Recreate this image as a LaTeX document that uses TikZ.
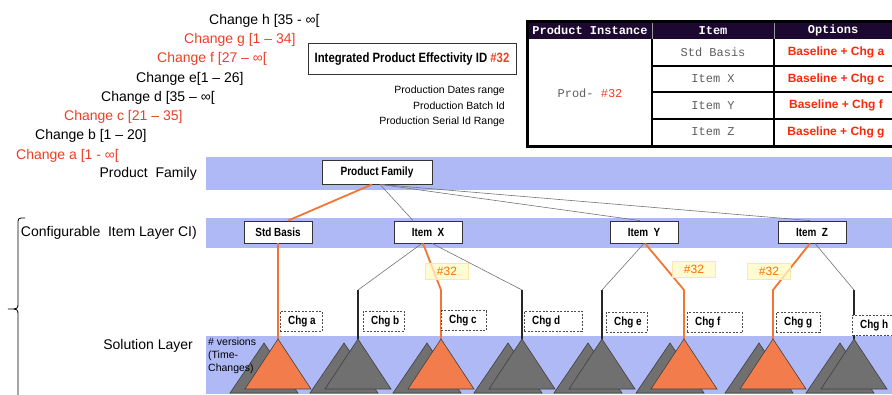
\documentclass[tikz,border=0pt]{standalone}
\usepackage{fontspec}
\setmainfont{Liberation Sans}
\setmonofont{Liberation Mono}
\newfontfamily\narrowsf[FakeStretch=0.84]{Liberation Sans}

\definecolor{chgred}{RGB}{238,62,36}
\definecolor{optred}{RGB}{250,40,10}
\definecolor{layerblue}{RGB}{175,185,246}
\definecolor{pathorange}{RGB}{242,118,50}
\definecolor{treeorange}{RGB}{243,124,76}
\definecolor{treegray}{RGB}{112,112,112}
\definecolor{tagyellow}{RGB}{255,249,196}
\definecolor{tagorange}{RGB}{255,110,0}
\definecolor{headpurple}{RGB}{28,8,48}
\definecolor{cellgray}{RGB}{95,95,95}

\tikzset{
  chglabel/.style={anchor=west, inner sep=0pt, font=\fontsize{14}{16}\selectfont},
  layerlabel/.style={anchor=east, inner sep=0pt, font=\fontsize{14}{16}\selectfont},
  itembox/.style={draw=black!80, fill=white, line width=0.8pt, minimum width=68pt, minimum height=22pt, inner sep=1pt,
    font=\narrowsf\bfseries\fontsize{11.8}{13}\selectfont},
  chgbox/.style={draw=black!70, dash pattern=on 2pt off 1.5pt, fill=white, minimum height=20pt, inner sep=0pt},
  chgtext/.style={inner sep=0pt, font=\narrowsf\bfseries\fontsize{11.8}{13}\selectfont},
  idtag/.style={draw=tagyellow!85!orange, line width=0.4pt, fill=tagyellow, fill opacity=0.75, text opacity=1, text=tagorange,
    minimum width=43pt, minimum height=16pt, inner sep=0pt, font=\fontsize{12}{13}\selectfont},
  thinlink/.style={draw=black!55, line width=0.6pt},
  stem/.style={draw=black!85, line width=1.3pt},
  pick/.style={draw=pathorange, line width=1.8pt},
  versiontree/.style={draw=black!75, line width=0.6pt},
  cell/.style={inner sep=0pt, text=cellgray, font=\ttfamily\fontsize{12}{14}\selectfont},
}

\begin{document}
\begin{tikzpicture}[x=1pt, y=-1pt]
\clip (0,0) rectangle (892,394);

% layers
\fill[layerblue] (206,157) rectangle (892,190);
\fill[layerblue] (206,218) rectangle (892,248);
\fill[layerblue] (206,336) rectangle (892,394);

% change history
\node[chglabel] (chg-h) at (209,21) {Change h [35 - ∞[};
\node[chglabel, text=chgred] (chg-g) at (184,40) {Change g [1 – 34]};
\node[chglabel, text=chgred] (chg-f) at (157,59) {Change f [27 – ∞[};
\node[chglabel] (chg-e) at (136,79) {Change e[1 – 26]};
\node[chglabel] (chg-d) at (101,98) {Change d [35 – ∞[};
\node[chglabel, text=chgred] (chg-c) at (64,117) {Change c [21 – 35]};
\node[chglabel] (chg-b) at (35,136) {Change b [1 – 20]};
\node[chglabel, text=chgred] (chg-a) at (16,156) {Change a [1 - ∞[};

\node[layerlabel] (lbl-pf) at (197,174) {Product\ \ Family};
\node[layerlabel] (lbl-ci) at (197,233) {Configurable\ \ Item Layer CI)};
\node[layerlabel] (lbl-sl) at (193,346) {Solution Layer};

% brace
\draw[line width=0.8pt] (25,218) .. controls (18,218) .. (18,224) -- (18,303)
  .. controls (18,309) .. (8,309) .. controls (18,309) .. (18,315) -- (18,400);

% effectivity
\node[draw=black!80, line width=0.8pt, minimum width=208pt, minimum height=31pt,
  font=\narrowsf\bfseries\fontsize{13.5}{15}\selectfont] (eff) at (412,59)
  {Integrated Product Effectivity ID \textcolor{chgred}{\#32}};
\node[anchor=east, inner sep=0pt, font=\fontsize{10.5}{12}\selectfont] (eff-dates) at (505,91) {Production Dates range};
\node[anchor=east, inner sep=0pt, font=\fontsize{10.5}{12}\selectfont] (eff-batch) at (505,106) {Production Batch Id};
\node[anchor=east, inner sep=0pt, font=\fontsize{10.5}{12}\selectfont] (eff-serial) at (505,122) {Production Serial Id Range};

% instance table
\fill[headpurple] (527,21) rectangle (892,39);
\draw[white!60!black, line width=0.6pt] (652,21) -- (652,39) (774,21) -- (774,39);
\draw[line width=1.2pt] (652,39) -- (652,146) (774,39) -- (774,146);
\draw[line width=1.2pt] (652,66) -- (892,66) (652,92) -- (892,92) (652,119) -- (892,119);
\draw[line width=3pt] (527,21) rectangle (895,146);
\node[cell, text=white, font=\ttfamily\bfseries\fontsize{12}{14}\selectfont] (th-inst) at (590,30.5) {Product Instance};
\node[cell, text=white, font=\ttfamily\bfseries\fontsize{12}{14}\selectfont] (th-item) at (713,30.5) {Item};
\node[cell, text=white, font=\ttfamily\bfseries\fontsize{12}{14}\selectfont] (th-opt) at (833,30.5) {Options};
\node[cell] (td-prod) at (590,93) {Prod- \textcolor{chgred}{\#32}};
\foreach \r/\y/\itm/\opt in {1/52.5/Std Basis/a, 2/79/Item X/c, 3/105.5/Item Y/f, 4/132/Item Z/g} {
  \node[cell] (td-item-\r) at (713,\y) {\itm};
  \node[inner sep=0pt, text=optred, font=\bfseries\fontsize{12}{14}\selectfont] (td-opt-\r) at (836,\y) {Baseline + Chg \opt};
}

% configuration items
\node[itembox, minimum width=110pt, minimum height=24pt, font=\narrowsf\bfseries\fontsize{12}{14}\selectfont] (pf) at (377,172) {Product Family};
\node[itembox] (std) at (278,232) {Std Basis};
\node[itembox] (itx) at (428,232) {Item\ \ X};
\node[itembox] (ity) at (644,232) {Item\ \ Y};
\node[itembox] (itz) at (812,232) {Item\ \ Z};

\foreach \n/\x in {a/278, b/358, c/441, d/522, e/602, f/684, g/773, h/854} {
  \coordinate (apex-\n) at (\x,339);
  \coordinate (knee-\n) at (\x,290);
}

% links
\draw[pick] ([xshift=-5pt]pf.south) -- ([xshift=10pt]std.north);
\draw[thinlink] ([xshift=3pt]pf.south) -- ([xshift=-15pt]itx.north);
\draw[thinlink] ([xshift=3pt]pf.south) -- ([xshift=-4pt]ity.north);
\draw[thinlink] ([xshift=3pt]pf.south) -- ([xshift=-2pt]itz.north);

\draw[pick] (std.south) -- (apex-a);
\draw[thinlink] ([xshift=-6pt]itx.south) -- (knee-b);
\draw[stem] (knee-b) -- (apex-b);
\draw[pick] ([xshift=-5pt]itx.south) -- (knee-c) -- (apex-c);
\draw[thinlink] ([xshift=4pt]itx.south) -- (knee-d);
\draw[stem] (knee-d) -- (apex-d);
\draw[thinlink] (ity.south) -- (knee-e);
\draw[stem] (knee-e) -- (apex-e);
\draw[pick] ([xshift=1pt]ity.south) -- (knee-f) -- (apex-f);
\draw[pick] ([xshift=-2pt]itz.south) -- (knee-g) -- (apex-g);
\draw[thinlink] ([xshift=3pt]itz.south) -- (knee-h);
\draw[stem] (knee-h) -- (apex-h);

% versions
\foreach \n/\c in {a/treeorange, b/treegray, c/treeorange, d/treegray, e/treegray, f/treeorange, g/treeorange, h/treegray} {
  \draw[versiontree, fill=treegray] ([shift={(-14,4)}]apex-\n) -- ++(-34,50) -- ++(68,0) -- cycle;
  \draw[versiontree, fill=\c] (apex-\n) -- ++(-33,50) -- ++(66,0) -- cycle;
}
\node[anchor=north west, inner sep=0pt, align=left, font=\fontsize{10.5}{13}\selectfont] (versions) at (208,338)
  {\# versions\\(Time-\\Changes)};

% change labels
\foreach \n/\x/\y/\w in {a/280/321/42, b/363/321/41, c/441/320.5/45, d/524/321/58, e/606/322/41, f/687/322.5/55, g/776/322/44, h/852/325/45} {
  \node[chgbox, minimum width=\w, anchor=west] (lbl-\n) at (\x,\y) {};
  \node[chgtext, anchor=west] at ([xshift=8pt]lbl-\n.west) {Chg \n};
}

\node[idtag] (tag-c) at (447,271) {\#32};
\node[idtag] (tag-f) at (694,269) {\#32};
\node[idtag] (tag-g) at (769,271) {\#32};
\end{tikzpicture}
\end{document}
